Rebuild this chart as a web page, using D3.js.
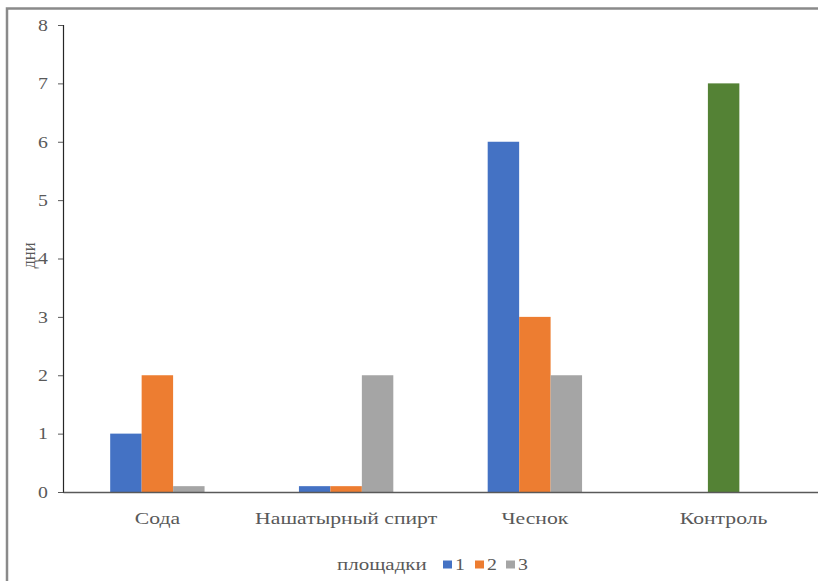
<!DOCTYPE html>
<html>
<head>
<meta charset="utf-8">
<script src="https://cdn.jsdelivr.net/npm/d3@7/dist/d3.min.js"></script>
<style>
  html, body { margin: 0; padding: 0; background: #fff; }
  svg { display: block; }
</style>
</head>
<body>
<svg id="chart" width="818" height="581"></svg>
<script>
// Categories and series values (days)
const categories = ["Сода", "Нашатырный спирт", "Чеснок", "Контроль"];
const seriesNames = ["1", "2", "3"];
const series1 = [1, 0.1, 6, null];
const series2 = [2, 0.1, 3, null];
const series3 = [0.1, 2, 2, null];
const controlValues = [null, null, null, 7];
const yTicks = [0, 1, 2, 3, 4, 5, 6, 7, 8];

const seriesColors = ["#4472C4", "#ED7D31", "#A5A5A5"];
const controlColor = "#548235";
const FONT = '"Liberation Serif"';
const TEXT = "#595959";
const SX = 1.2; // horizontal stretch of the lettering

const svg = d3.select("#chart");
const W = 818, H = 581;
const margin = { left: 63, right: 0, top: 25, bottom: 89 };

function styleText(sel, size) {
  return sel.style("font-family", FONT).style("font-size", size + "px").style("fill", TEXT);
}

// outer frame
svg.append("rect")
  .attr("x", 7).attr("y", 8.5)
  .attr("width", W + 10).attr("height", H + 10)
  .attr("fill", "none").attr("stroke", "#8a8a8a").attr("stroke-width", 2.5);

const x = d3.scaleBand()
  .domain(categories)
  .range([margin.left, W - margin.right])
  .paddingInner(0).paddingOuter(0);

const y = d3.scaleLinear()
  .domain([0, 8])
  .range([H - margin.bottom, margin.top]);

const barW = x.bandwidth() / 6;
const xSub = d3.scaleBand()
  .domain(seriesNames)
  .range([x.bandwidth() / 2 - 1.5 * barW, x.bandwidth() / 2 + 1.5 * barW]);

const allSeries = [series1, series2, series3];

// grouped bars
allSeries.forEach((vals, si) => {
  svg.append("g").selectAll("rect")
    .data(categories.map((c, i) => ({ c, v: vals[i] })).filter(d => d.v != null))
    .join("rect")
    .attr("x", d => x(d.c) + xSub(seriesNames[si]))
    .attr("y", d => y(d.v))
    .attr("width", xSub.bandwidth())
    .attr("height", d => y(0) - y(d.v))
    .attr("fill", seriesColors[si]);
});

// control bar, centred in its category
svg.append("g").selectAll("rect")
  .data(categories.map((c, i) => ({ c, v: controlValues[i] })).filter(d => d.v != null))
  .join("rect")
  .attr("x", d => x(d.c) + xSub("2"))
  .attr("y", d => y(d.v))
  .attr("width", xSub.bandwidth())
  .attr("height", d => y(0) - y(d.v))
  .attr("fill", controlColor);

// y axis
const yAxis = d3.axisLeft(y).tickValues(yTicks).tickSize(5).tickPadding(7.5).tickFormat(d3.format("d"));
const gy = svg.append("g").attr("transform", `translate(${margin.left},0)`).call(yAxis);
gy.attr("font-family", null).attr("font-size", null);
gy.select(".domain").attr("stroke", "#262626").attr("stroke-width", 1.2);
gy.selectAll(".tick line").attr("stroke", "#595959");
styleText(gy.selectAll(".tick text"), 16.5).attr("transform", `scale(${SX},1)`);

// x axis
const xAxis = d3.axisBottom(x).tickSize(0).tickPadding(20);
const gx = svg.append("g").attr("transform", `translate(0,${y(0)})`).call(xAxis);
gx.attr("font-family", null).attr("font-size", null);
gx.select(".domain").attr("stroke", "#595959").attr("stroke-width", 1.5);
styleText(gx.selectAll(".tick text"), 17.5).attr("transform", "scale(1.24,1)");

// y axis title
styleText(svg.append("text"), 16.5)
  .attr("transform", `translate(35,${(y(0) + y(8)) / 2 - 3}) rotate(-90) scale(1,${SX})`)
  .attr("text-anchor", "middle")
  .text("дни");

// legend
const lg = svg.append("g").attr("transform", "translate(0,570)");
styleText(lg.append("text"), 17.5)
  .attr("transform", `translate(337,0) scale(${SX},1)`)
  .text("площадки");
const legendX = [443, 475, 506];
seriesNames.forEach((n, i) => {
  lg.append("rect").attr("x", legendX[i]).attr("y", -9.5).attr("width", 9).attr("height", 8).attr("fill", seriesColors[i]);
  styleText(lg.append("text"), 16.5)
    .attr("transform", `translate(${legendX[i] + 12},0) scale(${SX},1)`)
    .text(n);
});
</script>
</body>
</html>
